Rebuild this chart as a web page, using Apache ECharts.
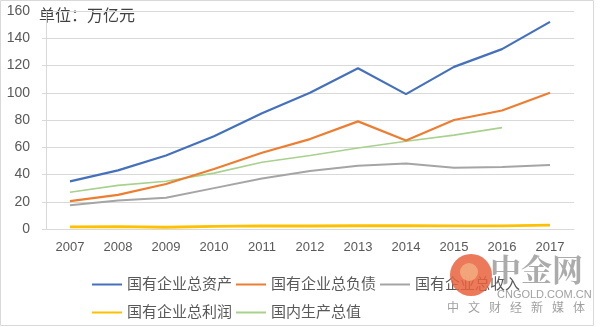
<!DOCTYPE html>
<html>
<head>
<meta charset="utf-8">
<script src="https://cdn.jsdelivr.net/npm/echarts@6/dist/echarts.min.js"></script>
<style>html,body{margin:0;padding:0;background:#fff}#c{width:600px;height:327px}</style>
</head>
<body>
<div id="c"></div>
<script>
const years = ['2007','2008','2009','2010','2011','2012','2013','2014','2015','2016','2017'];
const totalAssets = [35, 43, 54, 68, 85, 100, 118, 99, 119, 132, 152];
const totalLiabilities = [20.5, 25, 33, 44, 56, 66, 79, 65, 80, 87, 100];
const totalRevenue = [17.5, 21, 23, 30, 37, 42.5, 46.5, 48, 45, 45.5, 47];
const totalProfit = [1.6, 1.7, 1.3, 2.0, 2.3, 2.2, 2.4, 2.5, 2.3, 2.3, 2.9];
const gdp = [27, 32, 35, 41, 49, 54, 59.5, 64.4, 68.9, 74.4, null];
const seriesNames = ['国有企业总资产','国有企业总负债','国有企业总收入','国有企业总利润','国内生产总值'];
const yTicks = [0, 20, 40, 60, 80, 100, 120, 140, 160];
const watermarkChars = ['中','文','财','经','新','媒','体'];

const colors = ['#4470BC', '#ED7D31', '#A5A5A5', '#FFC000', '#A9D18E'];
const widths = [2.2, 2.2, 2, 2.8, 1.6];
const datas = [totalAssets, totalLiabilities, totalRevenue, totalProfit, gdp];

const chart = echarts.init(document.getElementById('c'), null, {renderer: 'canvas'});
const font = 'Arial, "Liberation Sans", "Noto Sans CJK SC", sans-serif';
const legendBase = {
  left: 87, itemWidth: 30, itemHeight: 2, itemGap: 4, icon: 'rect',
  textStyle: {color: '#595959', fontSize: 15, fontFamily: font}
};
chart.setOption({
  animation: false,
  grid: {left: 46, right: 26, top: 11, bottom: 98},
  xAxis: {
    type: 'category', data: years, boundaryGap: true,
    axisLine: {lineStyle: {color: '#D9D9D9', width: 1}},
    axisTick: {show: false},
    axisLabel: {color: '#595959', fontSize: 13, fontFamily: font, margin: 12}
  },
  yAxis: {
    type: 'value', min: yTicks[0], max: yTicks[yTicks.length - 1], interval: 20,
    axisLine: {show: true, lineStyle: {color: '#D9D9D9'}},
    axisTick: {show: true, length: 4, lineStyle: {color: '#D9D9D9'}},
    splitLine: {lineStyle: {color: '#D9D9D9', width: 1}},
    axisLabel: {color: '#595959', fontSize: 14, fontFamily: font, margin: 16}
  },
  legend: [
    Object.assign({}, legendBase, {top: 272, data: seriesNames.slice(0, 3)}),
    Object.assign({}, legendBase, {top: 300, data: seriesNames.slice(3)})
  ],
  series: seriesNames.map((n, i) => ({
    name: n, type: 'line', data: datas[i], symbol: 'none',
    lineStyle: {color: colors[i], width: widths[i]},
    itemStyle: {color: colors[i]},
    z: 10 - i
  })),
  graphic: [
    {type: 'rect', shape: {x: 0.5, y: 0.5, width: 593, height: 325}, style: {fill: 'none', stroke: '#D9D9D9', lineWidth: 1}, silent: true},
    {type: 'text', left: 39, top: 7, style: {text: '单位：万亿元', fill: '#404040', font: '16px "Noto Sans CJK SC", sans-serif'}},
    {type: 'circle', shape: {cx: 471, cy: 275, r: 21}, style: {fill: '#E8613D', opacity: 0.85}, z: 100},
    {type: 'circle', shape: {cx: 469, cy: 272, r: 9}, style: {fill: '#F4B183', opacity: 0.8}, z: 101},
    {type: 'text', left: 490, top: 254, z: 100, style: {text: '中金网', fill: 'rgba(150,150,150,0.8)', font: 'bold 31px "Noto Serif CJK SC", "Noto Sans CJK SC", serif'}},
    {type: 'text', left: 497, top: 289, z: 100, style: {text: 'CNGOLD.COM.CN', fill: 'rgba(150,150,150,0.9)', font: '11px Arial, sans-serif'}}
  ].concat(watermarkChars.map((ch, i) => ({
    type: 'text', left: 447 + i * 21, top: 301, z: 100,
    style: {text: ch, fill: 'rgba(150,150,150,0.9)', font: '12px "Noto Sans CJK SC", sans-serif'}
  })))
});
</script>
</body>
</html>
